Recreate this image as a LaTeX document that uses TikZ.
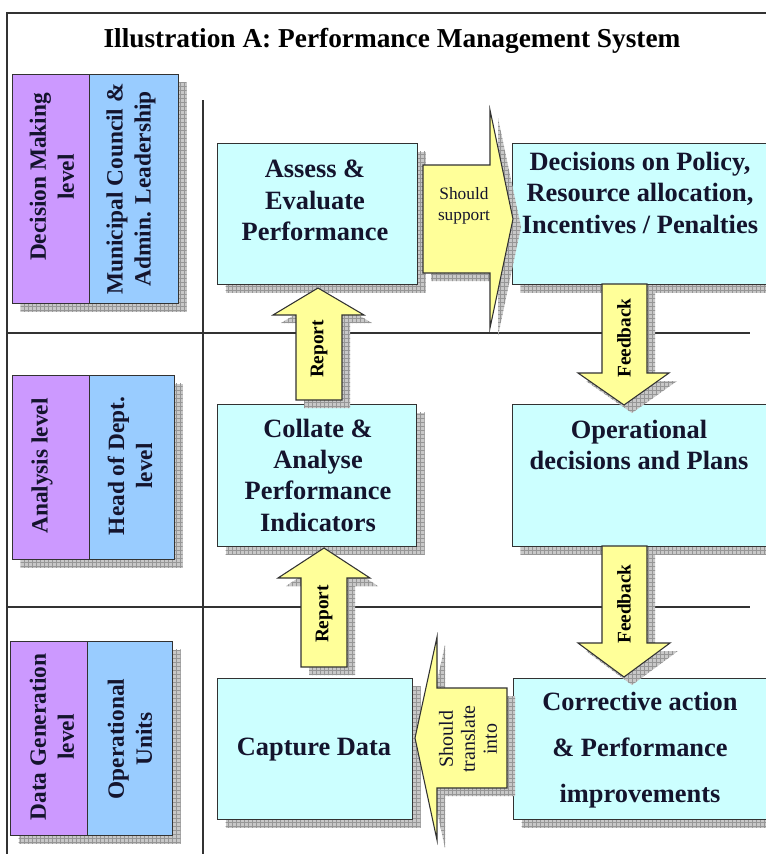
\documentclass[tikz,border=0pt]{standalone}
\usepackage{fontspec}
\setmainfont{Liberation Serif}
\usetikzlibrary{shadows,patterns}
\definecolor{lvpurple}{RGB}{204,153,255}
\definecolor{lvblue}{RGB}{153,204,255}
\definecolor{boxcyan}{RGB}{204,255,255}
\definecolor{arryellow}{RGB}{255,255,153}
\definecolor{inkc}{RGB}{20,20,45}
\definecolor{shadowc}{RGB}{200,200,200}
\definecolor{shadowl}{RGB}{150,150,150}
\definecolor{linec}{RGB}{50,50,50}
\tikzset{
  sh/.style={general shadow={shadow xshift=6pt,shadow yshift=-6pt,fill=shadowc},
             general shadow={shadow xshift=6pt,shadow yshift=-6pt,pattern=grid,pattern color=shadowl}},
  lvbox/.style={draw=linec, line width=0.9pt, inner sep=0pt, anchor=north west, sh},
  lvp/.style={lvbox, fill=lvpurple},
  lvb/.style={lvbox, fill=lvblue},
  mainbox/.style={draw=linec, line width=0.9pt, fill=boxcyan, inner sep=0pt, anchor=north west, sh},
  blockarrow/.style={draw=linec, line width=0.8pt, fill=arryellow, line join=miter, sh},
  sepline/.style={draw=linec, line width=0.8pt},
  boxtxt/.style={font=\fontsize{19.8}{23.5}\selectfont\bfseries, text=inkc, align=center, inner sep=0pt},
  lvtxt/.style={font=\fontsize{17.5}{21}\selectfont\bfseries, text=inkc, align=center, rotate=90, inner sep=0pt},
  arrbold/.style={font=\fontsize{14.5}{17}\selectfont\bfseries, text=black, rotate=90, inner sep=0pt},
  arrreg/.style={font=\fontsize{13}{16}\selectfont, text=inkc, align=center, inner sep=0pt},
}
\begin{document}
\begin{tikzpicture}[x=0.75pt,y=-0.75pt]
\useasboundingbox (0,0) rectangle (765,854);
\fill[white] (0,0) rectangle (765,854);

% frame and separator lines
\draw[sepline, line width=1pt] (7,860) -- (7,13) -- (770,13);
\draw[sepline] (203,100) -- (203,860);
\draw[sepline] (8,333) -- (750,333);
\draw[sepline] (8,607) -- (750,607);

% title
\node[font=\fontsize{20.5}{24}\selectfont\bfseries, anchor=base, inner sep=0pt] (title) at (392,47) {Illustration A: Performance Management System};

% level boxes
\node[lvp, minimum width=77*0.75pt, minimum height=229*0.75pt] (l1a) at (12,74) {};
\node[lvb, minimum width=89*0.75pt, minimum height=229*0.75pt] (l1b) at (89,74) {};
\node[lvp, minimum width=77*0.75pt, minimum height=184*0.75pt] (l2a) at (12,375) {};
\node[lvb, minimum width=85*0.75pt, minimum height=184*0.75pt] (l2b) at (89,375) {};
\node[lvp, minimum width=77*0.75pt, minimum height=194*0.75pt] (l3a) at (10,641) {};
\node[lvb, minimum width=85*0.75pt, minimum height=194*0.75pt] (l3b) at (87,641) {};

\node[lvtxt] (t1a) at (52,177) {Decision Making\\level};
\node[lvtxt] (t1b) at (131,189) {Municipal Council \&\\Admin. Leadership};
\node[lvtxt] (t2a) at (42,466) {Analysis level};
\node[lvtxt] (t2b) at (130,466) {Head of Dept.\\level};
\node[lvtxt] (t3a) at (52,737) {Data Generation\\level};
\node[lvtxt] (t3b) at (130,739) {Operational\\Units};

% main boxes
\node[mainbox, minimum width=200*0.75pt, minimum height=141*0.75pt] (assess) at (217,143) {};
\node[mainbox, minimum width=270*0.75pt, minimum height=141*0.75pt] (decide) at (512,143) {};
\node[mainbox, minimum width=199*0.75pt, minimum height=142*0.75pt] (collate) at (217,404) {};
\node[mainbox, minimum width=270*0.75pt, minimum height=142*0.75pt] (oper) at (512,404) {};
\node[mainbox, minimum width=195*0.75pt, minimum height=141*0.75pt] (capture) at (217,678) {};
\node[mainbox, minimum width=270*0.75pt, minimum height=141*0.75pt] (correct) at (513,678) {};

% block arrows
\draw[blockarrow] (423,165) -- (490,165) -- (490,110) -- (513,219) -- (490,328) -- (490,273) -- (423,273) -- cycle;
\draw[blockarrow] (296,400) -- (296,315) -- (273,315) -- (318,288) -- (364,315) -- (342,315) -- (342,400) -- cycle;
\draw[blockarrow] (301,667) -- (301,578) -- (278,578) -- (324,548) -- (370,578) -- (347,578) -- (347,667) -- cycle;
\draw[blockarrow] (602,284) -- (647,284) -- (647,373) -- (669,373) -- (624,405) -- (578,373) -- (602,373) -- cycle;
\draw[blockarrow] (602,546) -- (647,546) -- (647,643) -- (670,643) -- (624,677) -- (578,643) -- (602,643) -- cycle;
\draw[blockarrow] (507,688) -- (437,688) -- (437,637) -- (415,738) -- (437,840) -- (437,788) -- (507,788) -- cycle;

% box texts
\node[boxtxt, anchor=north] (assesst) at (315,160) {Assess \&\\Evaluate\\Performance};
\node[boxtxt, anchor=north] (decidet) at (640,152) {Decisions on Policy,\\Resource allocation,\\Incentives / Penalties};
\node[boxtxt] (collatet) at (318,475) {Collate \&\\Analyse\\Performance\\Indicators};
\node[boxtxt, anchor=north] (opert) at (639,420) {Operational\\decisions and Plans};
\node[boxtxt] (capturet) at (314,750) {Capture Data};
\node[boxtxt, anchor=north, font=\fontsize{19.8}{34.5}\selectfont\bfseries] (correctt) at (640,692) {Corrective action\\\& Performance\\improvements};

% arrow labels
\node[arrreg] (supportt) at (464,206) {Should\\support};
\node[arrbold] (rep1) at (319,349) {Report};
\node[arrbold] (rep2) at (324,614) {Report};
\node[arrbold] (fb1) at (624,338) {Feedback};
\node[arrbold] (fb2) at (624,604) {Feedback};
\node[arrreg, rotate=90, font=\fontsize{15}{16.5}\selectfont] (transt) at (468,739) {Should\\translate\\into};
\end{tikzpicture}
\end{document}
